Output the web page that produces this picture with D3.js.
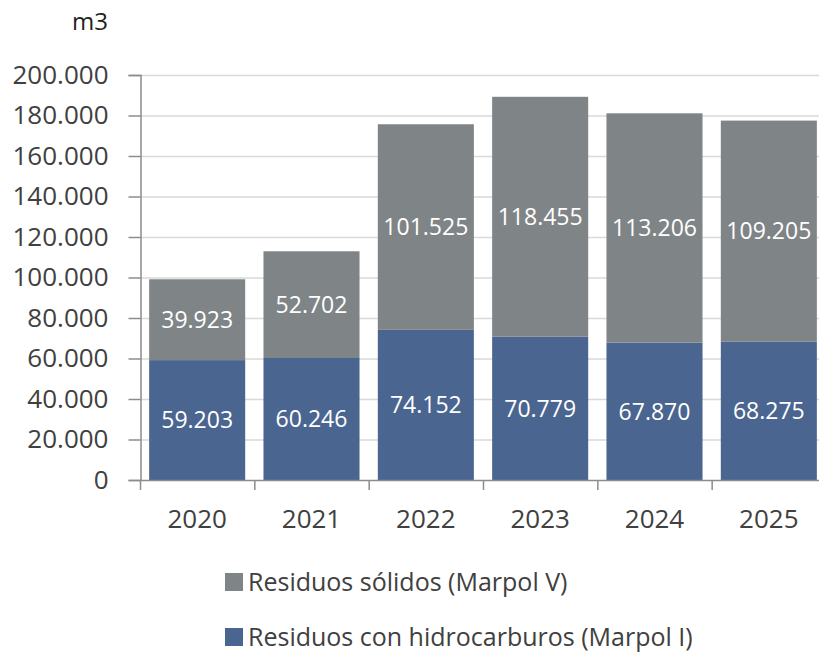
<!DOCTYPE html>
<html lang="es">
<head>
<meta charset="UTF-8">
<script src="https://d3js.org/d3.v7.min.js"></script>
<style>
  body { margin: 0; background: #fff; }
  text { font-family: "Open Sans", "Noto Sans", sans-serif; }
</style>
</head>
<body>
<script>
// data
var years = ["2020", "2021", "2022", "2023", "2024", "2025"];
var hidrocarburos = [59203, 60246, 74152, 70779, 67870, 68275];
var solidos = [39923, 52702, 101525, 118455, 113206, 109205];
var yTicks = [0, 20000, 40000, 60000, 80000, 100000, 120000, 140000, 160000, 180000, 200000];
var seriesNames = ["Residuos sólidos (Marpol V)", "Residuos con hidrocarburos (Marpol I)"];

var width = 819, height = 654;
var plotLeft = 140, plotTop = 75, plotBottom = 480, plotRight = 826;
var blue = "#4a6590", gray = "#7f8487", textCol = "#404040";

var fmt = function (v) { return d3.format(",")(v).replace(/,/g, "."); };

var svg = d3.select("body").append("svg")
    .attr("width", width)
    .attr("height", height);

var x = d3.scaleBand().domain(years).range([plotLeft, plotRight])
    .paddingInner(0.16).paddingOuter(0.08);
var y = d3.scaleLinear().domain([0, 200000]).range([plotBottom, plotTop]);

// gridlines
svg.append("g").selectAll("line")
    .data(yTicks.filter(function (d) { return d > 0; }))
    .enter().append("line")
    .attr("x1", plotLeft).attr("x2", width)
    .attr("y1", function (d) { return y(d) + 0.5; })
    .attr("y2", function (d) { return y(d) + 0.5; })
    .attr("stroke", "#d9d9d9").attr("stroke-width", 1.5);

// y axis
var yAxis = svg.append("g")
    .attr("transform", "translate(" + (plotLeft + 0.5) + ",0)")
    .call(d3.axisLeft(y).tickValues(yTicks).tickFormat(fmt).tickSize(12).tickPadding(20));
yAxis.select(".domain").attr("stroke", "#8c8c8c").attr("stroke-width", 1.5);
yAxis.selectAll(".tick line").attr("stroke", "#8c8c8c").attr("stroke-width", 1.5);
yAxis.selectAll(".tick text")
    .attr("fill", textCol).attr("font-size", 26)
    .attr("font-family", "'Open Sans', sans-serif");

svg.append("text")
    .attr("x", 108).attr("y", 30)
    .attr("text-anchor", "end")
    .attr("fill", "#222").attr("font-size", 24)
    .text("m3");

// stacked bars
var stackData = years.map(function (yr, i) {
    return { year: yr, hidro: hidrocarburos[i], solid: solidos[i] };
});
var series = d3.stack().keys(["hidro", "solid"])(stackData);
var colors = { hidro: blue, solid: gray };

var groups = svg.append("g").selectAll("g")
    .data(series)
    .enter().append("g")
    .attr("fill", function (s) { return colors[s.key]; });

groups.selectAll("rect")
    .data(function (s) { return s; })
    .enter().append("rect")
    .attr("x", function (d) { return x(d.data.year); })
    .attr("width", x.bandwidth())
    .attr("y", function (d) { return y(d[1]); })
    .attr("height", function (d) { return y(d[0]) - y(d[1]); });

groups.selectAll("text")
    .data(function (s) { return s; })
    .enter().append("text")
    .attr("x", function (d) { return x(d.data.year) + x.bandwidth() / 2; })
    .attr("y", function (d) { return (y(d[0]) + y(d[1])) / 2; })
    .attr("dy", "0.36em")
    .attr("text-anchor", "middle")
    .attr("fill", "#fff").attr("font-size", 23)
    .text(function (d) { return fmt(d[1] - d[0]); });

// x axis
var step = x.step();
var bounds = years.map(function (yr) { return x(yr) - x.paddingInner() * step / 2; });
bounds.push(bounds[bounds.length - 1] + step);
svg.append("line")
    .attr("x1", plotLeft).attr("x2", width)
    .attr("y1", plotBottom + 0.5).attr("y2", plotBottom + 0.5)
    .attr("stroke", "#8c8c8c").attr("stroke-width", 1.5);
svg.append("g").selectAll("line")
    .data(bounds)
    .enter().append("line")
    .attr("x1", function (d) { return d + 0.5; })
    .attr("x2", function (d) { return d + 0.5; })
    .attr("y1", plotBottom).attr("y2", plotBottom + 10)
    .attr("stroke", "#8c8c8c").attr("stroke-width", 1.5);
svg.append("g").selectAll("text")
    .data(years)
    .enter().append("text")
    .attr("x", function (d) { return x(d) + x.bandwidth() / 2; })
    .attr("y", 528)
    .attr("text-anchor", "middle")
    .attr("fill", textCol).attr("font-size", 26)
    .text(function (d) { return d; });

// legend
var legendColors = [gray, blue];
var legend = svg.append("g").selectAll("g")
    .data(seriesNames)
    .enter().append("g")
    .attr("transform", function (d, i) { return "translate(225," + (573 + i * 55) + ")"; });
legend.append("rect")
    .attr("width", 18).attr("height", 18)
    .attr("fill", function (d, i) { return legendColors[i]; });
legend.append("text")
    .attr("x", 23).attr("y", 18)
    .attr("fill", textCol).attr("font-size", 25)
    .text(function (d) { return d; });
</script>
</body>
</html>
